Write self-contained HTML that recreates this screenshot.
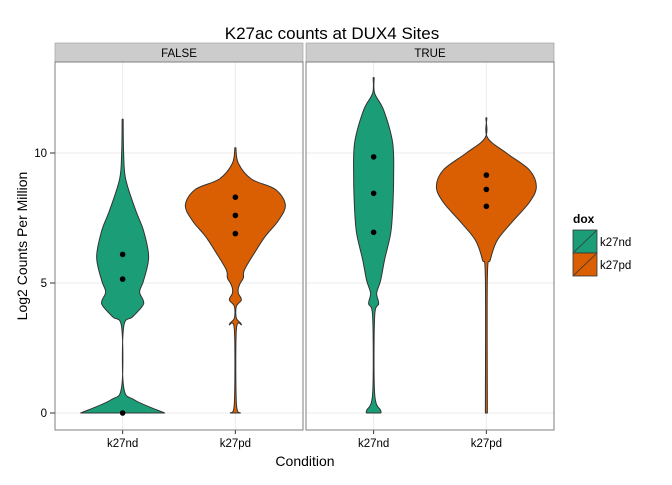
<!DOCTYPE html>
<html><head><meta charset="utf-8">
<style>
body{margin:0;background:#fff;}
svg{font-family:"Liberation Sans",sans-serif;}
</style></head>
<body>
<svg id="chart" width="672" height="480" viewBox="0 0 672 480">
<rect width="672" height="480" fill="#fff"/>
<text x="332" y="39" font-size="17" text-anchor="middle" fill="#000">K27ac counts at DUX4 Sites</text>
<g id="panels"></g>
<text x="305" y="466" font-size="14" text-anchor="middle">Condition</text>
<text transform="translate(27,246) rotate(-90)" font-size="14" text-anchor="middle">Log2 Counts Per Million</text>
<g>
<text x="573" y="223" font-size="12" font-weight="bold">dox</text>
<g>
<rect x="573" y="230" width="24" height="23" fill="#1B9E77" stroke="#333" stroke-width="0.8"/>
<line x1="574" y1="252" x2="596" y2="231" stroke="#333" stroke-width="0.8"/>
<text x="600" y="246" font-size="11.5">k27nd</text></g>
<g>
<rect x="573" y="253" width="24" height="23" fill="#D95F02" stroke="#333" stroke-width="0.8"/>
<line x1="574" y1="275" x2="596" y2="254" stroke="#333" stroke-width="0.8"/>
<text x="600" y="269" font-size="11.5">k27pd</text></g>
</g>
</svg>
<script>
const facets = ["FALSE","TRUE"];
const categories = ["k27nd","k27pd"];
const colors = ["#1B9E77","#D95F02"];
const yTicks = [0,5,10];
// violin profiles: [value, half-width density]
const violinFalseNd = [[0,42],[0.5,12],[1.0,1],[3.3,1],[3.7,10],[4.2,21],[4.65,17],[5.1,21],[6.0,26],[7.0,21],[7.8,13],[9.0,3],[10,1],[11.3,0.5]];
const violinFalsePd = [[0,5],[0.4,1],[3.2,1],[3.4,6],[3.65,1],[4.1,1],[4.35,6],[4.6,3],[4.8,3],[5.0,5],[5.2,8],[5.5,9],[6.15,19],[6.8,30],[7.4,43],[8.0,50],[8.6,40],[9.0,16],[9.6,3],[10.2,0.5]];
const violinTrueNd = [[0,7],[0.1,7],[0.75,1],[3.7,1],[4.2,5],[4.6,3],[5.1,7],[5.9,11],[6.9,17],[7.8,19],[9.1,20],[10.4,19],[11.65,10],[12.3,1],[12.9,0.5]];
const violinTruePd = [[0,1],[5.2,1],[5.9,4],[6.65,11],[7.4,27],[8.1,43],[8.7,50],[9.35,43],[10,20],[10.6,1],[11.35,0.5]];
const pointsFalseNd = [6.1,5.15,0];
const pointsFalsePd = [8.3,7.6,6.9];
const pointsTrueNd = [9.85,8.45,6.95];
const pointsTruePd = [9.15,8.6,7.95];

const violins = [[violinFalseNd,violinFalsePd],[violinTrueNd,violinTruePd]];
const points = [[pointsFalseNd,pointsFalsePd],[pointsTrueNd,pointsTruePd]];
const NS="http://www.w3.org/2000/svg";
const panelX=[55,306], panelW=248, panelTop=62, panelBot=430;
const yScale = v => 413 - v*26;
const xScale = (p,i) => panelX[p] + panelW*(0.6+i)/2.2;
const g=document.getElementById('panels');
function mk(tag,attrs,parent){const e=document.createElementNS(NS,tag);for(const k in attrs)e.setAttribute(k,attrs[k]);(parent||g).appendChild(e);return e;}
function smooth(pts){
  let d='';
  for(let i=0;i<pts.length-1;i++){
    const p0=pts[Math.max(0,i-1)],p1=pts[i],p2=pts[i+1],p3=pts[Math.min(pts.length-1,i+2)];
    const c1=[p1[0]+(p2[0]-p0[0])/6,p1[1]+(p2[1]-p0[1])/6];
    const c2=[p2[0]-(p3[0]-p1[0])/6,p2[1]-(p3[1]-p1[1])/6];
    d+=' C'+c1[0]+','+c1[1]+' '+c2[0]+','+c2[1]+' '+p2[0]+','+p2[1];
  }
  return d;
}
facets.forEach((f,p)=>{
  const px=panelX[p];
  const grp=mk('g',{});
  
  
  const strip=mk('rect',{x:px,y:43,width:panelW,height:19,fill:'#CCCCCC',stroke:'#999',"stroke-width":0.6},grp);
  
  
  const st=mk('text',{x:px+panelW/2,y:57,"font-size":11.5,"text-anchor":"middle"},grp);
  st.textContent=f;
  
  
  mk('rect',{x:px,y:panelTop,width:panelW,height:panelBot-panelTop,fill:'#fff'},grp);
  [2.5,7.5,12.5].forEach(v=>mk('line',{x1:px,x2:px+panelW,y1:yScale(v),y2:yScale(v),stroke:'#FAFAFA',"stroke-width":0.6},grp));
  yTicks.forEach(v=>mk('line',{x1:px,x2:px+panelW,y1:yScale(v),y2:yScale(v),stroke:'#EBEBEB',"stroke-width":1},grp));
  categories.forEach((c,i)=>mk('line',{x1:xScale(p,i),x2:xScale(p,i),y1:panelTop,y2:panelBot,stroke:'#EBEBEB',"stroke-width":1},grp));
  categories.forEach((c,i)=>{
    const cx=xScale(p,i), prof=violins[p][i];
    const left=prof.map(q=>[cx-q[1],yScale(q[0])]);
    const right=prof.slice().reverse().map(q=>[cx+q[1],yScale(q[0])]);
    let d='M'+left[0][0]+','+left[0][1]+smooth(left)+' L'+right[0][0]+','+right[0][1]+smooth(right)+'Z';
    const v=mk('path',{d:d,fill:colors[i],stroke:'#333',"stroke-width":1,"stroke-linejoin":"round"},grp);
    
    
    points[p][i].forEach(val=>{
      const pt=mk('circle',{cx:cx,cy:yScale(val),r:2.8,fill:'#000'},grp);
      
      
    });
    mk('line',{x1:cx,x2:cx,y1:panelBot,y2:panelBot+4,stroke:'#333'},grp);
    const tl=mk('text',{x:cx,y:panelBot+17,"font-size":11.5,"text-anchor":"middle",fill:'#000'},grp);
    tl.textContent=c;
    
    
  });
  mk('rect',{x:px,y:panelTop,width:panelW,height:panelBot-panelTop,fill:'none',stroke:'#7F7F7F',"stroke-width":1},grp);
});
yTicks.forEach(v=>{
  mk('line',{x1:50,x2:55,y1:yScale(v),y2:yScale(v),stroke:'#333'});
  const t=mk('text',{x:47,y:yScale(v)+4,"font-size":11.5,"text-anchor":"end"});
  t.textContent=v;
  
  
});
</script>
</body></html>
